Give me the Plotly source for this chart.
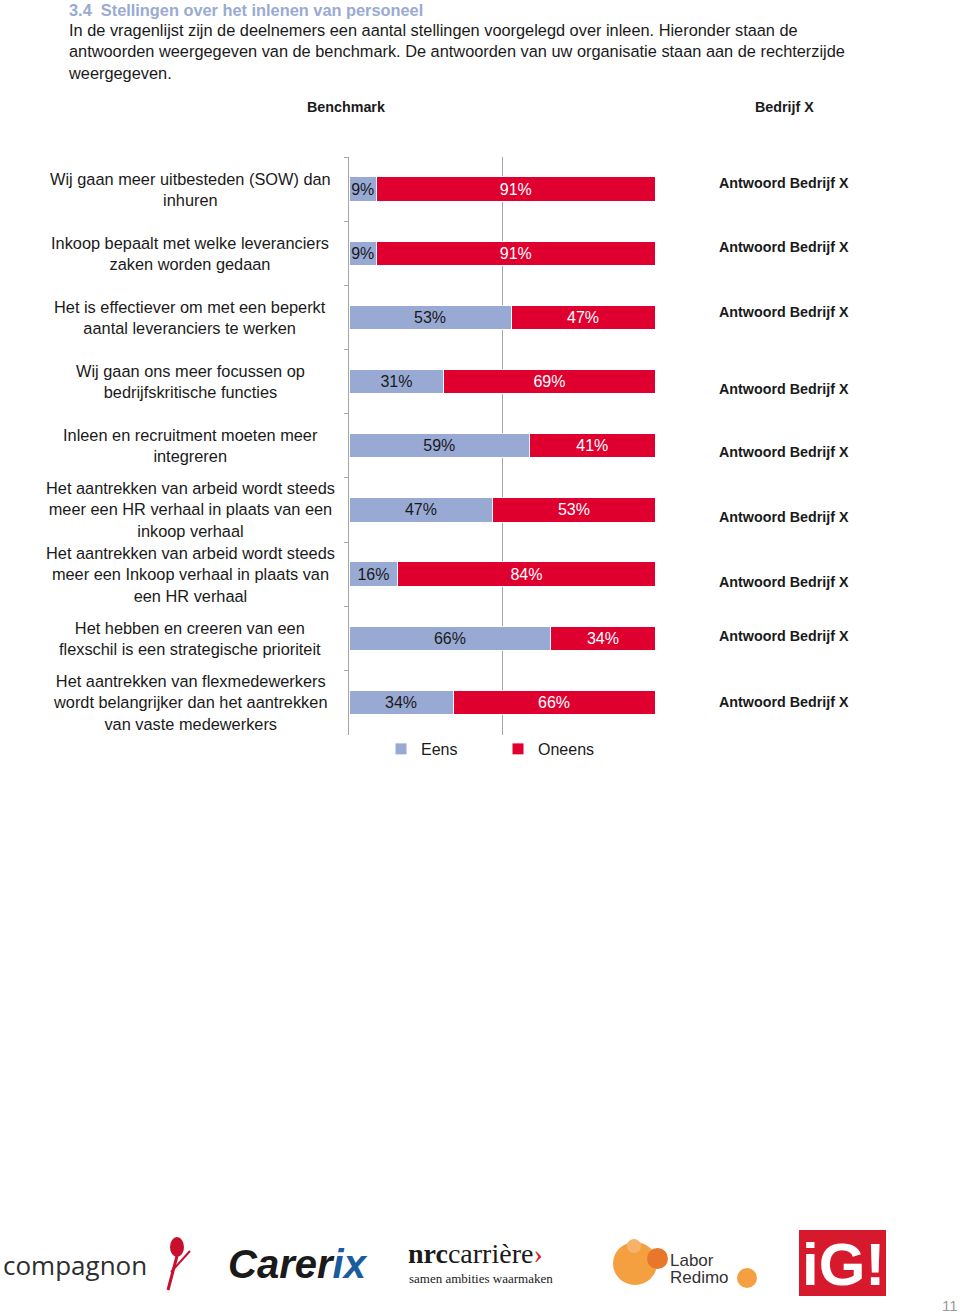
import plotly.graph_objects as go

# ---------------- data ----------------
statements = [
    "Wij gaan meer uitbesteden (SOW) dan<br>inhuren",
    "Inkoop bepaalt met welke leveranciers<br>zaken worden gedaan",
    "Het is effectiever om met een beperkt<br>aantal leveranciers te werken",
    "Wij gaan ons meer focussen op<br>bedrijfskritische functies",
    "Inleen en recruitment moeten meer<br>integreren",
    "Het aantrekken van arbeid wordt steeds<br>meer een HR verhaal in plaats van een<br>inkoop verhaal",
    "Het aantrekken van arbeid wordt steeds<br>meer een Inkoop verhaal in plaats van<br>een HR verhaal",
    "Het hebben en creeren van een<br>flexschil is een strategische prioriteit",
    "Het aantrekken van flexmedewerkers<br>wordt belangrijker dan het aantrekken<br>van vaste medewerkers",
]
eens = [9, 9, 53, 31, 59, 47, 16, 66, 34]
oneens = [91, 91, 47, 69, 41, 53, 84, 34, 66]
series_names = ["Eens", "Oneens"]
company_answer = "Antwoord Bedrijf X"

# ---------------- layout helpers ----------------
W, H = 960, 1313
L, R, T, B = 349, 655, 157, 735


def px_x(px):
    return (px - L) / (R - L)


def px_y(py):
    return (B - py) / (B - T)


BLUE = "#98A9D4"
RED = "#DF0030"
TXT = "#1a1a1a"
FONT = "Liberation Sans, Arial, sans-serif"
TS = 16.35  # text size of page body / labels

fig = go.Figure()
fig.add_trace(go.Bar(
    y=statements, x=eens, name=series_names[0], orientation="h",
    marker=dict(color=BLUE, line=dict(color="white", width=1)),
    text=[f"{v}%" for v in eens], textposition="inside",
    insidetextanchor="middle", textangle=0,
    textfont=dict(color=TXT, size=16, family=FONT),
))
fig.add_trace(go.Bar(
    y=statements, x=oneens, name=series_names[1], orientation="h",
    marker=dict(color=RED, line=dict(color="white", width=1)),
    text=[f"{v}%" for v in oneens], textposition="inside",
    insidetextanchor="middle", textangle=0,
    textfont=dict(color="white", size=16, family=FONT),
))

annotations = []
# category labels (centered, multi-line)
for s in statements:
    annotations.append(dict(
        x=px_x(190), xref="paper", y=s, yref="y", text=s, showarrow=False,
        xanchor="center", yanchor="middle", align="center",
        font=dict(size=TS, color=TXT, family=FONT)))

# right-hand company answers
answer_yshift = [6, 6, 5, -7, -6, -7, -8, 2, 1]
for s, ys in zip(statements, answer_yshift):
    annotations.append(dict(
        x=px_x(784), xref="paper", y=s, yref="y", yshift=ys,
        text=f"<b>{company_answer}</b>", showarrow=False,
        xanchor="center", yanchor="middle",
        font=dict(size=14.3, color=TXT, family=FONT)))

# headers
annotations += [
    dict(x=px_x(67), y=px_y(10), xref="paper", yref="paper", showarrow=False,
         xanchor="left", yanchor="middle",
         text="<b>3.4  Stellingen over het inlenen van personeel</b>",
         font=dict(size=TS, color="#9AAAD2", family=FONT)),
    dict(x=px_x(66), y=px_y(51.5), xref="paper", yref="paper", showarrow=False,
         xanchor="left", yanchor="middle", align="left",
         text=("In de vragenlijst zijn de deelnemers een aantal stellingen voorgelegd over inleen. Hieronder staan de<br>"
               "antwoorden weergegeven van de benchmark. De antwoorden van uw organisatie staan aan de rechterzijde<br>"
               "weergegeven."),
         font=dict(size=TS, color=TXT, family=FONT)),
    dict(x=px_x(346), y=px_y(107), xref="paper", yref="paper", showarrow=False,
         xanchor="center", yanchor="middle", text="<b>Benchmark</b>",
         font=dict(size=14.3, color=TXT, family=FONT)),
    dict(x=px_x(784), y=px_y(107), xref="paper", yref="paper", showarrow=False,
         xanchor="center", yanchor="middle", text="<b>Bedrijf X</b>",
         font=dict(size=14.3, color=TXT, family=FONT)),
]

# footer logos (approximations in text/shapes)
annotations += [
    dict(x=px_x(1), y=px_y(1265), xref="paper", yref="paper", showarrow=False,
         xanchor="left", yanchor="middle", text="compagnon",
         font=dict(size=26, color="#2e2e2e", family="Open Sans, sans-serif")),
    dict(x=px_x(226), y=px_y(1264), xref="paper", yref="paper", showarrow=False,
         xanchor="left", yanchor="middle",
         text="<b><i>Carer<span style='color:#1B5C9E'>ix</span></i></b>",
         font=dict(size=40, color="#1a1a1a", family=FONT)),
    dict(x=px_x(406), y=px_y(1253), xref="paper", yref="paper", showarrow=False,
         xanchor="left", yanchor="middle",
         text="<b>nrc</b>carrière<span style='color:#D7192D'>›</span>",
         font=dict(size=28, color="#1a1a1a", family="Liberation Serif, serif")),
    dict(x=px_x(407), y=px_y(1278), xref="paper", yref="paper", showarrow=False,
         xanchor="left", yanchor="middle", text="samen ambities waarmaken",
         font=dict(size=13, color="#1a1a1a", family="Liberation Serif, serif")),
    dict(x=px_x(668), y=px_y(1260), xref="paper", yref="paper", showarrow=False,
         xanchor="left", yanchor="middle", text="Labor",
         font=dict(size=17, color="#333333", family=FONT)),
    dict(x=px_x(668), y=px_y(1277), xref="paper", yref="paper", showarrow=False,
         xanchor="left", yanchor="middle", text="Redimo",
         font=dict(size=17, color="#333333", family=FONT)),
    dict(x=px_x(843), y=px_y(1264), xref="paper", yref="paper", showarrow=False,
         xanchor="center", yanchor="middle", text="<b>iG!</b>",
         font=dict(size=60, color="white", family=FONT)),
    dict(x=px_x(950), y=px_y(1305), xref="paper", yref="paper", showarrow=False,
         xanchor="center", yanchor="middle", text="11",
         font=dict(size=15, color="#9a9a9a", family=FONT)),
]


def circ(x0, y0, x1, y1, color):
    return dict(type="circle", xref="paper", yref="paper",
                x0=px_x(x0), x1=px_x(x1), y0=px_y(y1), y1=px_y(y0),
                fillcolor=color, line=dict(width=0), layer="above")


def pline(x0, y0, x1, y1, color, w):
    return dict(type="line", xref="paper", yref="paper",
                x0=px_x(x0), x1=px_x(x1), y0=px_y(y0), y1=px_y(y1),
                line=dict(color=color, width=w), layer="above")


shapes = [
    # compagnon tulip
    circ(170, 1237, 184, 1257, "#C8102E"),
    pline(177, 1256, 168, 1290, "#C8102E", 3),
    pline(171, 1272, 190, 1251, "#C8102E", 2),
    # Labor Redimo circles
    circ(613, 1242, 657, 1285, "#F4A040"),
    circ(627, 1239, 641, 1253, "#F6B26B"),
    circ(647, 1248, 668, 1269, "#E8762B"),
    circ(737, 1268, 757, 1288, "#F4A040"),
    # iG! red square
    dict(type="rect", xref="paper", yref="paper", x0=px_x(799), x1=px_x(886),
         y0=px_y(1296), y1=px_y(1230), fillcolor="#D7192D",
         line=dict(width=0), layer="below"),
]

fig.update_layout(
    width=W, height=H,
    margin=dict(l=L, r=W - R, t=T, b=H - B, pad=0),
    barmode="stack", bargap=0.62,
    plot_bgcolor="white", paper_bgcolor="white",
    font=dict(family=FONT, color=TXT, size=16),
    uniformtext=dict(minsize=16, mode="show"),
    showlegend=True,
    legend=dict(orientation="h", x=px_x(381), xanchor="left", y=px_y(749),
                yanchor="middle", traceorder="normal",
                entrywidth=72, entrywidthmode="pixels", itemwidth=30,
                font=dict(size=16, color=TXT, family=FONT),
                bgcolor="rgba(0,0,0,0)"),
    xaxis=dict(range=[0, 100], tickvals=[0, 50, 100], showticklabels=False,
               showgrid=True, gridcolor="#A6A6A6", gridwidth=1,
               zeroline=False, showline=False, ticks="", fixedrange=True),
    yaxis=dict(autorange="reversed", showticklabels=False, showline=True,
               linecolor="#A6A6A6", linewidth=1, ticks="outside",
               tickson="boundaries", ticklen=4, tickcolor="#A6A6A6",
               showgrid=False, zeroline=False, fixedrange=True),
    annotations=annotations, shapes=shapes,
)

fig.write_html("out.html", config={"displayModeBar": False},
               post_script="document.body.style.margin='0px';document.body.style.padding='0px';")
